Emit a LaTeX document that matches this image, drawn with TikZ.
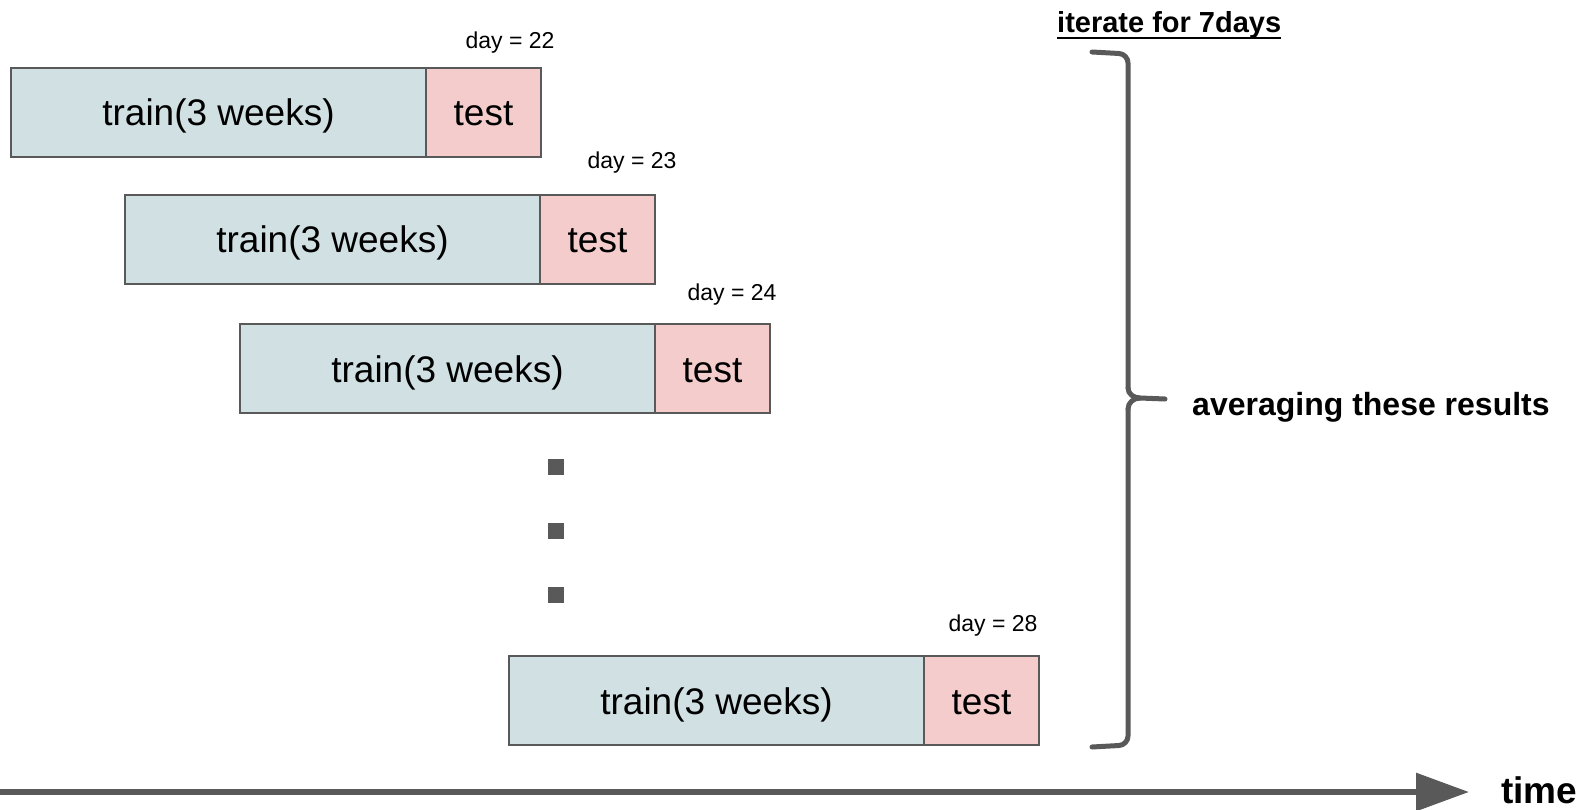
\documentclass[tikz,border=0pt]{standalone}
\usepackage{fontspec}
\setmainfont{Liberation Sans}
\usetikzlibrary{positioning,arrows.meta}
\definecolor{trainfill}{HTML}{D0E0E3}
\definecolor{testfill}{HTML}{F4CCCC}
\definecolor{edgegray}{HTML}{595959}
\tikzset{
  trainbox/.style={draw=edgegray,fill=trainfill,line width=1.3pt,minimum width=415pt,
    minimum height=89pt,inner sep=0pt,outer sep=0pt,anchor=north west,
    text height=27pt,text depth=0pt,font=\fontsize{37}{40}\selectfont},
  testbox/.style={draw=edgegray,fill=testfill,line width=1.3pt,minimum width=115pt,
    minimum height=89pt,inner sep=0pt,outer sep=0pt,
    text height=27pt,text depth=0pt,font=\fontsize{37}{40}\selectfont},
  daylbl/.style={font=\fontsize{23}{26}\selectfont},
  dotsq/.style={fill=edgegray,minimum size=16pt,inner sep=0pt},
  brace/.style={draw=edgegray,line width=5pt,line cap=round,line join=round},
  boldlbl/.style={font=\bfseries\fontsize{#1}{#1}\selectfont,inner sep=0pt},
  timearrow/.style={draw=edgegray,line width=6pt,-{Triangle[length=53pt,width=37pt]}}
}
\begin{document}
\begin{tikzpicture}[x=1pt,y=-1pt]
\useasboundingbox (0,0) rectangle (1586,810);
% the four windows
\node[trainbox] (tr1) at (11,68) {train(3 weeks)};
\node[testbox,right=0pt of tr1] (te1) {test};
\node[trainbox] (tr2) at (125,195) {train(3 weeks)};
\node[testbox,right=0pt of tr2] (te2) {test};
\node[trainbox] (tr3) at (240,324) {train(3 weeks)};
\node[testbox,right=0pt of tr3] (te3) {test};
\node[trainbox] (tr4) at (509,656) {train(3 weeks)};
\node[testbox,right=0pt of tr4] (te4) {test};
\node[daylbl] (day1) at (510,43) {day = 22};
\node[daylbl] (day2) at (632,163) {day = 23};
\node[daylbl] (day3) at (732,295) {day = 24};
\node[daylbl] (day4) at (993,626) {day = 28};
% dots
\node[dotsq] (dot1) at (556,467) {};
\node[dotsq] (dot2) at (556,531) {};
\node[dotsq] (dot3) at (556,595) {};
% brace
\draw[brace,rounded corners=9pt] (1092,52) -- (1128,54) -- (1128,388);
\draw[brace] (1128,388) to[out=-90,in=180] (1140,398) -- (1165,399);
\draw[brace] (1140,398) to[out=180,in=90] (1128,409);
\draw[brace,rounded corners=9pt] (1128,409) -- (1128,745) -- (1092,747);
\node[boldlbl=29,anchor=base west] (iter) at (1057,33) {iterate for 7days};
\draw[line width=2.5pt] ([yshift=-5pt]iter.base west) -- ([yshift=-5pt]iter.base east);
\node[boldlbl=32,anchor=base west] (avg) at (1192,415) {averaging these results};
% time axis
\coordinate (t0) at (0,792);
\coordinate (t1) at (1469,792);
\draw[timearrow] (t0) -- (t1);
\node[boldlbl=37,anchor=base west] (time) at (1501,803) {time};
\end{tikzpicture}
\end{document}
